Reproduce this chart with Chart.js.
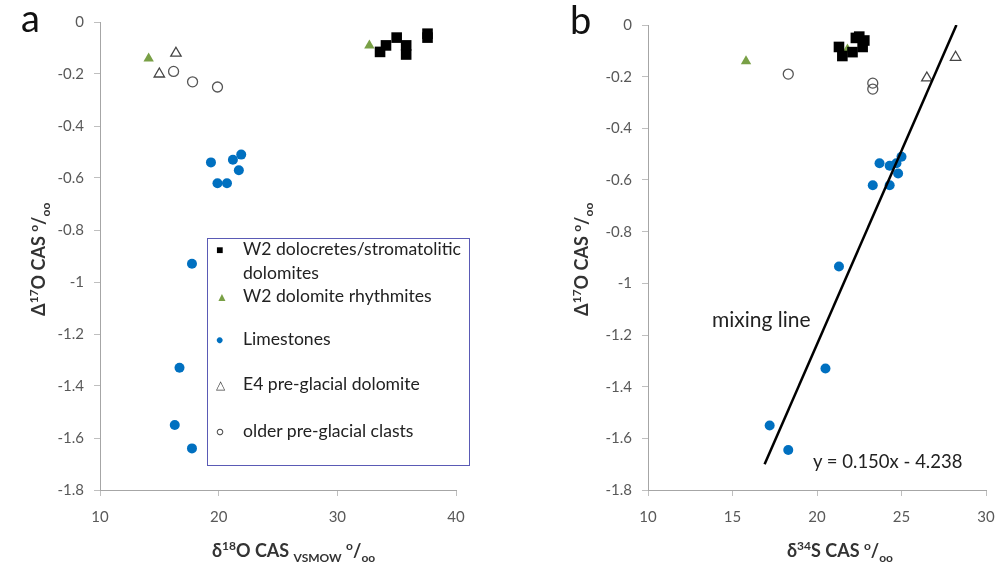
<!DOCTYPE html>
<html>
<head>
<meta charset="utf-8">
<script src="https://cdn.jsdelivr.net/npm/chart.js@4.4.0/dist/chart.umd.min.js"></script>
<style>
  body { margin: 0; background: #fff; font-family: Lato, "Open Sans", sans-serif; }
  #wrap { position: relative; width: 999px; height: 572px; overflow: hidden; }
  canvas { position: absolute; top: 0; }
  .txt { position: absolute; white-space: nowrap; color: #222; }
  .title { font-weight: bold; font-size: 18px; color: #333; }
  .title sup, .title sub { font-size: 12px; }
  .panel { font-size: 38px; color: #111; }
  .legend { position: absolute; left: 207px; top: 238px; width: 263px; height: 228px;
            border: 1.3px solid #5a5ab5; box-sizing: border-box; }
  .lg { position: absolute; font-size: 17.6px; color: #222; white-space: nowrap; }
  .mk { position: absolute; font-size: 12px; }
</style>
</head>
<body>
<div id="wrap">
  <canvas id="chartA" width="500" height="572" style="left:0"></canvas>
  <canvas id="chartB" width="530" height="572" style="left:500px"></canvas>

  <div class="txt panel" style="left:21px; top:-6px">a</div>
  <div class="txt panel" style="left:570px; top:-4px">b</div>

  <div class="txt title" style="left:212px; top:538px">δ<sup>18</sup>O CAS <sub>VSMOW</sub> <sup>o</sup>/<sub>oo</sub></div>
  <div class="txt title" style="left:787px; top:538px">δ<sup>34</sup>S CAS <sup>o</sup>/<sub>oo</sub></div>
  <div class="txt title" style="left:-17px; top:246px; transform:rotate(-90deg)">Δ<sup>17</sup>O CAS <sup>o</sup>/<sub>oo</sub></div>
  <div class="txt title" style="left:526px; top:246px; transform:rotate(-90deg)">Δ<sup>17</sup>O CAS <sup>o</sup>/<sub>oo</sub></div>

  <div class="txt" style="left:712px; top:306px; font-size:21px">mixing line</div>
  <div class="txt" style="left:813px; top:450px; font-size:18.5px">y = 0.150x - 4.238</div>

  <div class="legend"></div>
  <div class="mk" style="left:216px; top:242px; color:#000">■</div>
  <div class="lg" style="left:243px; top:238px">W2 dolocretes/stromatolitic</div>
  <div class="lg" style="left:243px; top:262px">dolomites</div>
  <div class="mk" style="left:216px; top:289px; color:#79a046">▲</div>
  <div class="lg" style="left:243px; top:285px">W2 dolomite rhythmites</div>
  <div class="mk" style="left:216px; top:332px; color:#0070c0">●</div>
  <div class="lg" style="left:243px; top:328px">Limestones</div>
  <div class="mk" style="left:216px; top:377px; color:#444">△</div>
  <div class="lg" style="left:243px; top:373px">E4 pre-glacial dolomite</div>
  <div class="mk" style="left:216px; top:424px; color:#444">○</div>
  <div class="lg" style="left:243px; top:420px">older pre-glacial clasts</div>
</div>

<script>
// DATA - panel a (d18O vs D17O)
const squaresA_x = [33.6, 34.1, 35.0, 35.8, 35.8, 37.6, 37.6];
const squaresA_y = [-0.115, -0.09, -0.06, -0.09, -0.125, -0.045, -0.06];
const rhythA_x = [14.1, 32.7];
const rhythA_y = [-0.14, -0.09];
const limeA_x = [19.35, 21.2, 21.9, 21.7, 19.9, 20.7, 17.75, 16.7, 16.3, 17.75];
const limeA_y = [-0.54, -0.53, -0.51, -0.57, -0.62, -0.62, -0.93, -1.33, -1.55, -1.64];
const e4A_x = [16.4, 15.0];
const e4A_y = [-0.12, -0.20];
const clastA_x = [16.2, 17.8, 19.9];
const clastA_y = [-0.19, -0.23, -0.25];

// DATA - panel b (d34S vs D17O)
const squaresB_x = [21.3, 21.5, 22.1, 22.3, 22.8, 22.7, 22.5];
const squaresB_y = [-0.085, -0.12, -0.105, -0.05, -0.06, -0.085, -0.045];
const rhythB_x = [15.8, 21.8];
const rhythB_y = [-0.14, -0.095];
const limeB_x = [23.7, 24.3, 24.7, 25.0, 24.8, 23.3, 24.3, 21.3, 20.5, 17.2, 18.3];
const limeB_y = [-0.535, -0.545, -0.535, -0.51, -0.575, -0.62, -0.62, -0.935, -1.33, -1.55, -1.645];
const e4B_x = [26.5, 28.2];
const e4B_y = [-0.205, -0.125];
const clastB_x = [18.3, 23.3, 23.3];
const clastB_y = [-0.19, -0.225, -0.248];
const mixLine_x = [16.9, 28.25];
const mixLine_y = [-1.70, 0];

const yTicks = [0, -0.2, -0.4, -0.6, -0.8, -1, -1.2, -1.4, -1.6, -1.8];

const pts = (xs, ys) => xs.map((x, i) => ({ x: x, y: ys[i] }));

function markerSets(sx, sy, rx, ry, lx, ly, ex, ey, cx, cy) {
    return [
        { data: pts(sx, sy), pointStyle: "rect", radius: 7.5, backgroundColor: "#000", borderColor: "#000", borderWidth: 0 },
        { data: pts(rx, ry), pointStyle: "triangle", radius: 6, backgroundColor: "#79a046", borderColor: "#79a046", borderWidth: 0 },
        { data: pts(lx, ly), pointStyle: "circle", radius: 5, backgroundColor: "#0070c0", borderColor: "#0070c0", borderWidth: 0 },
        { data: pts(ex, ey), pointStyle: "triangle", radius: 6, backgroundColor: "rgba(0,0,0,0)", borderColor: "#444", borderWidth: 1.3 },
        { data: pts(cx, cy), pointStyle: "circle", radius: 5, backgroundColor: "rgba(0,0,0,0)", borderColor: "#555", borderWidth: 1.3 },
    ];
}

function makeChart(id, datasets, xmin, xmax, xstep, area, canvasW) {
    const tickFont = { family: "Lato, 'Open Sans', sans-serif", size: 15 };
    return new Chart(document.getElementById(id), {
        type: "scatter",
        data: { datasets: datasets },
        options: {
            responsive: false,
            animation: false,
            devicePixelRatio: 1,
            layout: { padding: { left: 0, top: area.top, right: canvasW - area.right, bottom: 0 } },
            plugins: { legend: { display: false }, tooltip: { enabled: false } },
            scales: {
                x: {
                    type: "linear", min: xmin, max: xmax,
                    ticks: { stepSize: xstep, color: "#595959", font: tickFont, padding: 12 },
                    grid: { drawOnChartArea: false, drawTicks: true, tickLength: 6, color: "#bfbfbf" },
                    border: { display: true, color: "#a6a6a6", width: 1 },
                    afterFit: (s) => { s.height = 572 - area.bottom; },
                },
                y: {
                    type: "linear", min: -1.8, max: 0,
                    afterBuildTicks: (s) => { s.ticks = yTicks.map((v) => ({ value: v })); },
                    ticks: { color: "#595959", font: tickFont, padding: 10,
                             callback: (v) => String(Number(v.toFixed(1))) },
                    grid: { drawOnChartArea: false, drawTicks: true, tickLength: 6, color: "#bfbfbf" },
                    border: { display: true, color: "#a6a6a6", width: 1 },
                    afterFit: (s) => { s.width = area.left; },
                },
            },
        },
    });
}

makeChart("chartA",
    markerSets(squaresA_x, squaresA_y, rhythA_x, rhythA_y, limeA_x, limeA_y, e4A_x, e4A_y, clastA_x, clastA_y),
    10, 40, 10, { left: 100, right: 456, top: 22, bottom: 490 }, 500);

const setsB = markerSets(squaresB_x, squaresB_y, rhythB_x, rhythB_y, limeB_x, limeB_y, e4B_x, e4B_y, clastB_x, clastB_y);
setsB.unshift({
    type: "line", data: pts(mixLine_x, mixLine_y), showLine: true,
    borderColor: "#000", borderWidth: 2.5, pointRadius: 0, fill: false,
});
makeChart("chartB", setsB, 10, 30, 5, { left: 148, right: 486, top: 25, bottom: 490 }, 530);
</script>
</body>
</html>
